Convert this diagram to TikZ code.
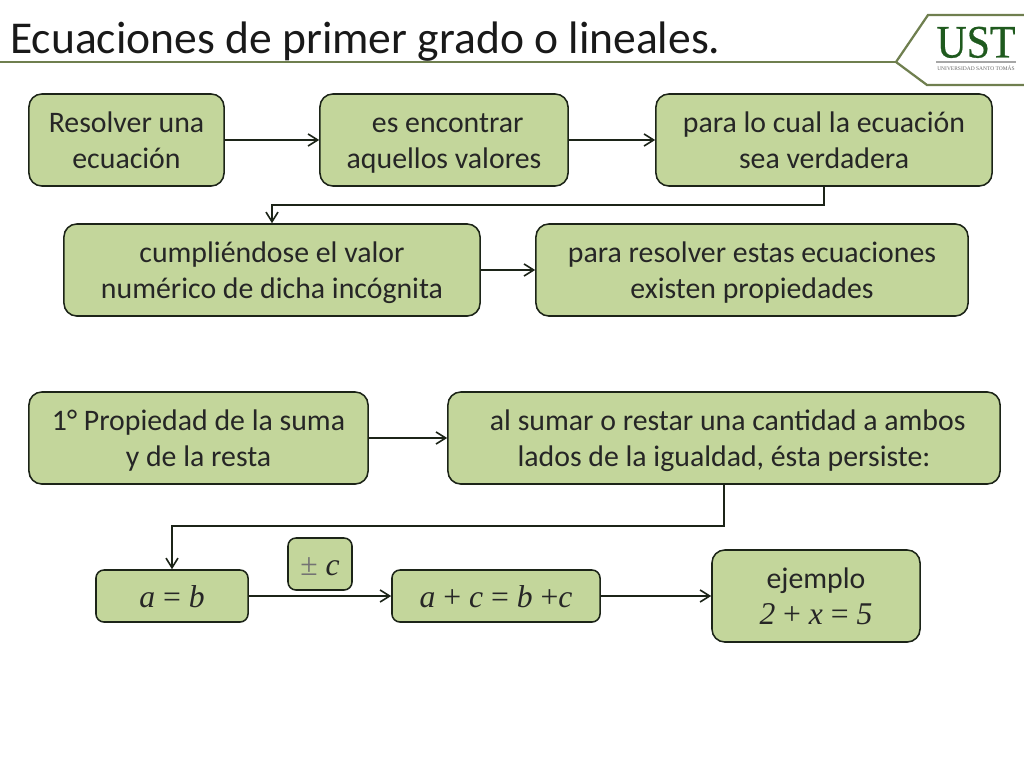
\documentclass[tikz,border=0pt]{standalone}
\usepackage{fontspec}
\setmainfont{Carlito}
\newfontfamily\serifmath{Liberation Serif}
\newfontfamily\logofont[FakeStretch=0.9,FakeBold=0.6]{Liberation Serif}
\usetikzlibrary{arrows.meta,positioning}
\definecolor{boxgreen}{HTML}{C3D69B}
\definecolor{boxedge}{HTML}{1C2418}
\definecolor{ruleolive}{HTML}{6F7F4F}
\definecolor{logogreen}{HTML}{1F5A1E}
\tikzset{
	base_box/.style={draw=boxedge, fill=boxgreen, line width=1.1pt, align=center, inner sep=0pt, text=black!85},
	flow_box/.style={base_box, rounded corners=3.2mm, minimum height=2.3cm, font=\fontsize{21.2}{25.6}\selectfont, execute at begin node=\rule{0pt}{47.6pt}, execute at end node=\rule[-7pt]{0pt}{7pt}},
	math_box/.style={base_box, rounded corners=2mm, minimum height=1.3cm, font=\serifmath\itshape\fontsize{22.5}{25.6}\selectfont, execute at begin node=\rule{0pt}{24pt}, execute at end node=\rule[-7pt]{0pt}{7pt}},
	flow_line/.style={line width=1.15pt, draw=boxedge, -{Straight Barb[length=2.4mm, width=3mm]}},
	rule_line/.style={line width=1.6pt, draw=ruleolive}
}
\begin{document}
\begin{tikzpicture}[x=0.025cm, y=-0.025cm]
	\useasboundingbox (0,0) rectangle (1024,768);
	\node [anchor=base west, inner sep=0pt, font=\fontsize{32.4}{36}\selectfont, text=black!90](title_node) at (10,54) {Ecuaciones de primer grado o lineales.};
	\coordinate (rule_start) at (0,62);
	\coordinate (rule_tip) at (896,62);
	\coordinate (logo_top) at (928,15);
	\coordinate (logo_top_end) at (1024,15);
	\coordinate (logo_bottom) at (927,85);
	\coordinate (logo_bottom_end) at (1024,85);
	\draw [rule_line] (rule_start) -- (rule_tip);
	\draw [rule_line] (logo_top_end) -- (logo_top) -- (rule_tip) -- (logo_bottom) -- (logo_bottom_end);
	\node [anchor=base, inner sep=0pt, text=logogreen, font=\logofont\fontsize{33}{33}\selectfont](ust_node) at (976,57.5) {UST};
	\node [inner sep=0pt, text=black!60, font=\serifmath\fontsize{3.9}{4}\selectfont](uni_node) at (976,68) {UNIVERSIDAD SANTO TOMÁS};
	\coordinate (logo_line_left) at (936,62);
	\coordinate (logo_line_right) at (1016,62);
	\draw [line width=0.8pt, draw=black!35] (logo_line_left) -- (logo_line_right);

	\node [flow_box, minimum width=4.875cm](resolver_node) at (126.5,140) {Resolver una\\ecuación};
	\node [flow_box, minimum width=6.2cm](encontrar_node) at (444,140) {\hspace*{0.25em}es encontrar\\aquellos valores};
	\node [flow_box, minimum width=8.4cm](cual_node) at (824,140) {para lo cual la ecuación\\sea verdadera};
	\node [flow_box, minimum width=10.4cm](cumple_node) at (272,270) {cumpliéndose el valor\\numérico de dicha incógnita};
	\node [flow_box, minimum width=10.8cm](propiedades_node) at (752,270) {para resolver estas ecuaciones\\existen propiedades};
	\node [flow_box, minimum width=8.475cm](suma_node) at (198.5,438) {1° Propiedad de la suma\\y de la resta};
	\node [flow_box, minimum width=13.8cm](sumar_node) at (724,438) {\hspace*{0.25em}al sumar o restar una cantidad a ambos\\lados de la igualdad, ésta persiste:};
	\node [math_box, minimum width=3.8cm](igual_node) at (172,596) {a {\upshape=} b};
	\node [math_box, minimum width=1.6cm](pm_node) at (320,564) {{\upshape\color{black!55}±} c};
	\node [math_box, minimum width=5.2cm](suma_c_node) at (496,596) {a {\upshape+} c {\upshape=} b {\upshape+}c};
	\node [flow_box, minimum width=5.2cm](ejemplo_node) at (816,596) {ejemplo\\{\serifmath\itshape\fontsize{22.5}{25.6}\selectfont 2 {\upshape+} x {\upshape=} 5}};

	\coordinate (bend_top) at (824,205);
	\coordinate (bend_bottom) at (724,526);
	\draw [flow_line] (resolver_node) -- (encontrar_node);
	\draw [flow_line] (encontrar_node) -- (cual_node);
	\draw [flow_line] (cual_node.south) -- (bend_top) -| (cumple_node.north);
	\draw [flow_line] (cumple_node) -- (propiedades_node);
	\draw [flow_line] (suma_node) -- (sumar_node);
	\draw [flow_line] (sumar_node.south) -- (bend_bottom) -| (igual_node.north);
	\draw [flow_line] (igual_node) -- (suma_c_node);
	\draw [flow_line] (suma_c_node) -- (ejemplo_node);
\end{tikzpicture}
\end{document}
